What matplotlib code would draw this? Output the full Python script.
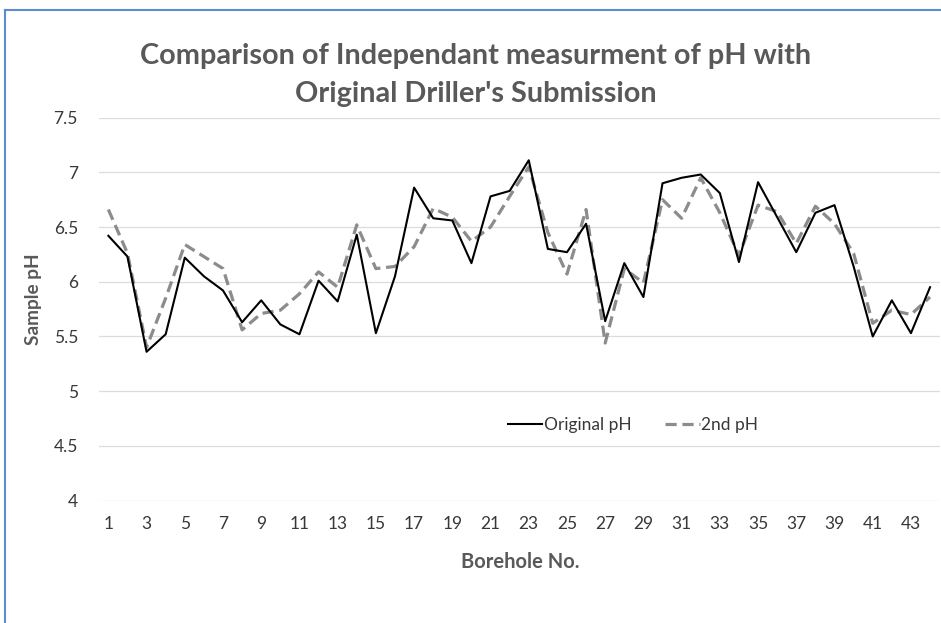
import matplotlib
matplotlib.use("Agg")
import matplotlib.pyplot as plt
from matplotlib.lines import Line2D

boreholes = list(range(1, 45))
original_ph = [6.42, 6.23, 5.36, 5.52, 6.22, 6.05, 5.92, 5.63, 5.83, 5.61,
               5.52, 6.01, 5.82, 6.43, 5.53, 6.05, 6.86, 6.58, 6.56, 6.17,
               6.78, 6.83, 7.11, 6.30, 6.27, 6.53, 5.64, 6.17, 5.86, 6.90,
               6.95, 6.98, 6.81, 6.18, 6.91, 6.59, 6.27, 6.63, 6.70, 6.14,
               5.50, 5.83, 5.53, 5.95]
second_ph = [6.66, 6.26, 5.40, 5.85, 6.34, 6.23, 6.12, 5.56, 5.71, 5.74,
             5.89, 6.09, 5.95, 6.52, 6.12, 6.14, 6.32, 6.67, 6.59, 6.37,
             6.50, 6.78, 7.05, 6.45, 6.07, 6.66, 5.44, 6.12, 5.99, 6.75,
             6.58, 6.95, 6.63, 6.24, 6.70, 6.64, 6.35, 6.69, 6.53, 6.26,
             5.62, 5.74, 5.70, 5.86]
xtick_labels = [str(i) for i in range(1, 45, 2)]
yticks = [4, 4.5, 5, 5.5, 6, 6.5, 7, 7.5]
ytick_labels = ["4", "4.5", "5", "5.5", "6", "6.5", "7", "7.5"]

plt.rcParams['font.family'] = ['Lato', 'DejaVu Sans']

W, H = 941, 623
fig = plt.figure(figsize=(W / 100, H / 100), dpi=100)
ax = fig.add_axes([98.8 / W, 1 - 500.6 / H, (939.6 - 98.8) / W, (500.6 - 117.6) / H])

ax.plot(boreholes, original_ph, color='black', lw=1.5, label='Original pH', zorder=3)
ax.plot(boreholes, second_ph, color='#8c8c8c', lw=2.3, dashes=(3.5, 1.8),
        label='2nd pH', zorder=2)

ax.set_xlim(0.5, 44.5)
ax.set_ylim(4, 7.5)
ax.set_xticks(list(range(1, 45, 2)))
ax.set_xticklabels(xtick_labels)
ax.set_yticks(yticks)
ax.set_yticklabels(ytick_labels)
ax.tick_params(axis='both', length=0, labelsize=12.5, colors='#383838')
ax.tick_params(axis='x', pad=11)
ax.tick_params(axis='y', pad=15)
ax.grid(axis='y', color='#dcdcdc', lw=0.9)
ax.set_axisbelow(True)
for s in ax.spines.values():
    s.set_visible(False)

title_kw = dict(ha='center', va='center', fontsize=20.8, fontweight='bold', color='#595959')
fig.text(476 / W, 1 - 56 / H, "Comparison of Independant measurment of pH with", **title_kw)
fig.text(476 / W, 1 - 94 / H, "Original Driller's Submission", **title_kw)
fig.text(520 / W, 1 - 562 / H, "Borehole No.", ha='center', va='center',
         fontsize=14.5, fontweight='bold', color='#595959')
fig.text(34 / W, 1 - 299 / H, "Sample pH", ha='center', va='center', rotation=90,
         fontsize=13.7, fontweight='bold', color='#595959')

fig.legend(loc='center', bbox_to_anchor=(633 / W, 1 - 425 / H), ncol=2,
           frameon=False, fontsize=12.5, handlelength=2.0, columnspacing=1.9,
           handletextpad=0.1, labelcolor='#383838')

border_col = '#5b8bd0'
fig.add_artist(Line2D([5 / W, 5 / W], [0, 1 - 10 / H], color=border_col, lw=1.5,
                      transform=fig.transFigure))
fig.add_artist(Line2D([5 / W, 1], [1 - 10 / H, 1 - 10 / H], color=border_col, lw=1.5,
                      transform=fig.transFigure))

fig.savefig("out.png", dpi=100, facecolor='white')
